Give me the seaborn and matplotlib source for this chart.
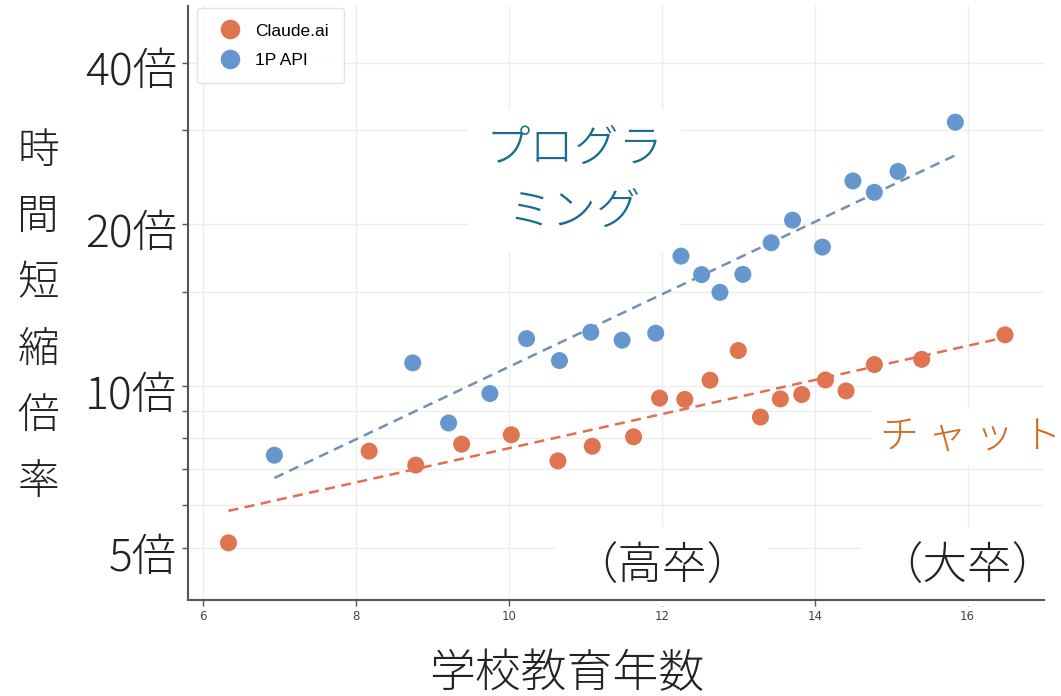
import numpy as np
import pandas as pd
import matplotlib.pyplot as plt
import matplotlib.transforms as mtransforms
import seaborn as sns

# years of schooling vs. time-savings multiplier
claude_x = [6.33, 8.17, 8.78, 9.38, 10.03, 10.64, 11.09, 11.63, 11.97, 12.30,
            12.63, 13.00, 13.29, 13.55, 13.83, 14.14, 14.41, 14.78, 15.40, 16.49]
claude_y = [5.11, 7.57, 7.13, 7.80, 8.12, 7.26, 7.73, 8.05, 9.50, 9.45,
            10.26, 11.65, 8.76, 9.47, 9.65, 10.27, 9.80, 10.97, 11.22, 12.46]
api_x = [6.93, 8.74, 9.21, 9.75, 10.23, 10.66, 11.07, 11.48, 11.92, 12.25,
         12.52, 12.76, 13.06, 13.43, 13.71, 14.10, 14.50, 14.78, 15.09, 15.84]
api_y = [7.44, 11.05, 8.54, 9.69, 12.26, 11.16, 12.60, 12.18, 12.55, 17.46,
         16.13, 14.95, 16.15, 18.49, 20.37, 18.15, 24.10, 22.95, 25.10, 31.00]

series_names = ["Claude.ai", "1P API"]
y_ticks = [5, 10, 20, 40]
y_ticklabels = ["5倍", "10倍", "20倍", "40倍"]
y_minor = [6, 7, 8, 9, 15, 30]
x_ticks = [6, 8, 10, 12, 14, 16]

df = pd.DataFrame({
    "years": claude_x + api_x,
    "speedup": claude_y + api_y,
    "source": [series_names[0]] * len(claude_x) + [series_names[1]] * len(api_x),
})

pal = {"Claude.ai": "#DF7550", "1P API": "#6597CE"}
trend_col = {"Claude.ai": "#E07050", "1P API": "#7390B2"}

jp = ["Noto Sans CJK JP", "DejaVu Sans"]

fig = plt.figure(figsize=(10.61, 6.96), dpi=100)
ax = fig.add_axes([188 / 1061, 1 - 600 / 696, (1044 - 188) / 1061, 594 / 696])

sns.scatterplot(data=df, x="years", y="speedup", hue="source", palette=pal,
                s=150, linewidth=0, ax=ax, zorder=3)

# log-linear fit per series
for name, xs, ys in [("Claude.ai", claude_x, claude_y), ("1P API", api_x, api_y)]:
    xs = np.array(xs)
    k, b = np.polyfit(xs, np.log(ys), 1)
    xx = np.array([xs.min(), xs.max()])
    ax.plot(xx, np.exp(k * xx + b), ls=(0, (4, 2.6)), lw=1.8,
            color=trend_col[name], zorder=2)

ax.set_yscale("log")
ax.set_ylim(4.0, 51)
ax.set_xlim(5.8, 17.0)
ax.set_yticks(y_ticks)
ax.set_yticklabels(y_ticklabels, family=jp, fontsize=32, color="#222222",
                   weight="light")
ax.set_yticks(y_minor, minor=True)
ax.yaxis.set_minor_formatter(plt.NullFormatter())
ax.set_xticks(x_ticks)
ax.set_xticklabels([str(t) for t in x_ticks], fontsize=8.5, color="#444444")
ax.tick_params(axis="y", which="both", length=4, width=1, color="#555555", pad=4)
ax.tick_params(axis="x", length=4, width=1, color="#555555", pad=3)

# nudge big y labels down a little
shift = mtransforms.ScaledTranslation(0, -5 / 100, fig.dpi_scale_trans)
for lab in ax.get_yticklabels():
    lab.set_transform(lab.get_transform() + shift)

ax.set_axisbelow(True)
ax.grid(True, which="both", color="#EDEDED", lw=1)
for s in ["top", "right"]:
    ax.spines[s].set_visible(False)
for s in ["left", "bottom"]:
    ax.spines[s].set_color("#555555")
    ax.spines[s].set_linewidth(1.5)
ax.set_xlabel("")
ax.set_ylabel("")

leg = ax.legend(loc="upper left", bbox_to_anchor=(0.011, 0.997), borderaxespad=0,
                frameon=True, borderpad=0.9, handletextpad=0.4, markerscale=1.15,
                labelspacing=0.8, prop={"family": "Liberation Sans", "size": 12.5})
leg.get_frame().set_edgecolor("#DDDDDD")
leg.get_frame().set_linewidth(1)

box = dict(facecolor="white", edgecolor="none", pad=12)
ax.text(10.86, 24.1, "プログラ\nミング", family=jp, fontsize=32, color="#1B6B8C",
        ha="center", va="center", linespacing=1.5, bbox=box, zorder=1.5,
        weight="light")
ax.text(16.04, 8.04, "チ ャ ッ ト", family=jp, fontsize=28, color="#D2691E",
        ha="center", va="center", bbox=dict(facecolor="white", edgecolor="none", pad=6),
        zorder=1.5, weight="light")
ax.text(12.0, 4.61, "（高卒）", family=jp, fontsize=32, color="#222222",
        ha="center", va="center", bbox=box, zorder=1.5, weight="light")
ax.text(16.0, 4.61, "（大卒）", family=jp, fontsize=32, color="#222222",
        ha="center", va="center", bbox=box, zorder=1.5, weight="light")

fig.text(38 / 1061, 1 - 317 / 696, "\n".join("時間短縮倍率"), family=jp,
         fontsize=30, color="#222222", ha="center", va="center", linespacing=1.68,
         weight="light")
fig.text(567 / 1061, 1 - 674 / 696, "学校教育年数", family=jp, fontsize=33,
         color="#222222", ha="center", va="center", weight="light")

fig.savefig("out.png", dpi=100)
